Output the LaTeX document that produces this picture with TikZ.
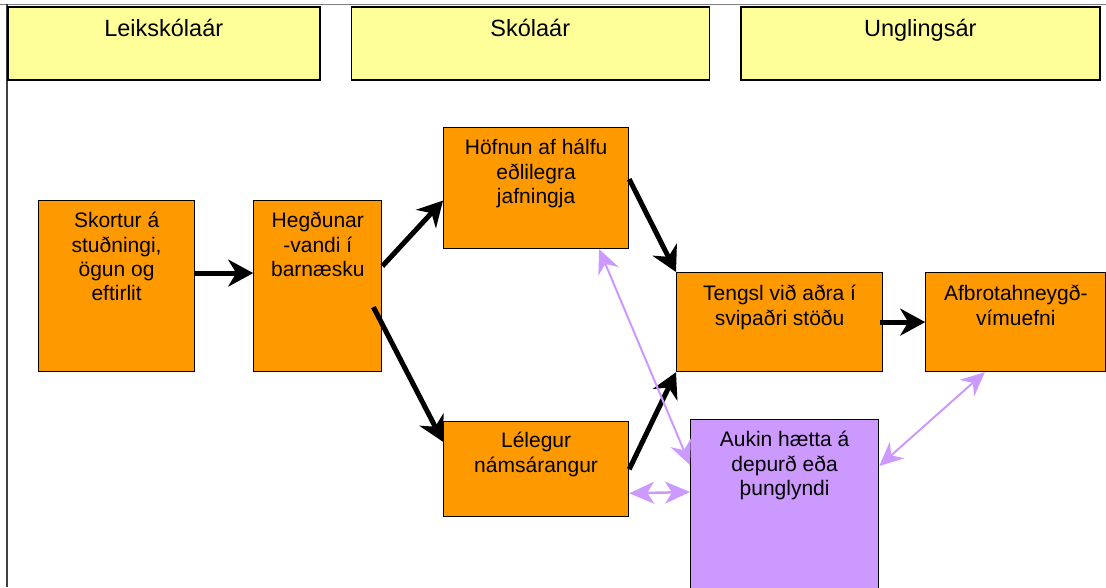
\documentclass[tikz,border=0pt]{standalone}
\usepackage{fontspec}
\setmainfont{Liberation Sans}
\usetikzlibrary{positioning,arrows.meta}

\definecolor{periodyellow}{HTML}{FFFF99}
\definecolor{factororange}{HTML}{FF9900}
\definecolor{riskpurple}{HTML}{CC99FF}

\newcommand{\boxtext}[4]{\parbox[t][#2][t]{#1}{\centering\rule{0pt}{#3}#4}}

\begin{document}
\begin{tikzpicture}[x=1pt, y=-1pt, node distance=30pt and 30pt,
  period/.style={draw, line width=1.5pt, fill=periodyellow, inner sep=0pt, font=\fontsize{23.5}{28}\selectfont},
  factor/.style={draw, line width=1.2pt, fill=factororange, inner sep=0pt, font=\fontsize{21}{24.4}\selectfont},
  risk/.style={factor, fill=riskpurple},
  cause/.style={line width=5pt, -{Stealth[length=25pt,width=27pt,inset=8pt]}},
  link/.style={riskpurple, line width=2pt, {Stealth[length=24pt,width=22pt,inset=8pt]}-{Stealth[length=24pt,width=22pt,inset=8pt]}},
  widelink/.style={riskpurple, line width=2.5pt, {Stealth[length=25pt,width=22pt,inset=7pt]}-{Stealth[length=25pt,width=22pt,inset=7pt]}}]
  \useasboundingbox (0,0) rectangle (1106,587);
  \draw[gray, line width=1pt] (0,4) -- (1106,4);
  \draw[darkgray, line width=1.5pt] (7,4) -- (7,587);

  % time periods
  \node[period, anchor=north west] (leik) at (7,6) {\boxtext{312pt}{73pt}{30pt}{Leikskólaár}};
  \node[period] (skola) [right=of leik] {\boxtext{358pt}{73pt}{30pt}{Skólaár}};
  \node[period] (ungl) [right=of skola] {\boxtext{359pt}{73pt}{30pt}{Unglingsár}};

  % factors
  \node[factor, anchor=north west] (skortur) at (38,200) {\boxtext{156pt}{171pt}{27pt}{Skortur á\\stuðningi,\\ögun og\\eftirlit}};
  \node[factor] (hegdun) [right=58pt of skortur] {\boxtext{128pt}{171pt}{27pt}{Hegðunar\\-vandi í\\barnæsku}};
  \node[factor, anchor=north west] (hofnun) at (443,127) {\boxtext{185pt}{121pt}{27pt}{Höfnun af hálfu\\eðlilegra\\jafningja}};
  \node[factor] (lelegur) [below=172pt of hofnun] {\boxtext{185pt}{95pt}{26pt}{Lélegur\\námsárangur}};
  \node[factor, anchor=north west] (tengsl) at (676,272) {\boxtext{206pt}{99pt}{28pt}{Tengsl við aðra í\\svipaðri stöðu}};
  \node[factor] (afbrot) [right=42pt of tengsl] {\boxtext{180pt}{99pt}{28pt}{Afbrotahneygð-\\vímuefni}};
  \node[risk, anchor=north west] (aukin) at (690,419) {\boxtext{188pt}{190pt}{27pt}{Aukin hætta á\\depurð eða\\þunglyndi}};

  % causal paths
  \draw[cause] ([yshift=13pt]skortur.east) -- ([yshift=13pt]hegdun.west);
  \draw[cause] ([yshift=20pt]hegdun.east) -- ([yshift=-12.5pt]hofnun.west);
  \draw[cause] ([xshift=-9pt,yshift=-21pt]hegdun.east) -- ([yshift=27.5pt]lelegur.west);
  \draw[cause] ([yshift=9pt]hofnun.east) -- (tengsl.north west);
  \draw[cause] (lelegur.east) -- (tengsl.south west);
  \draw[cause] ([xshift=-3pt]tengsl.east) -- (afbrot.west);

  % links to depression
  \draw[link] ([xshift=-30pt]hofnun.south east) -- ([yshift=-46pt]aukin.north west);
  \draw[widelink] ([yshift=-24pt]lelegur.east) -- ([yshift=-73pt]aukin.north west);
  \draw[link] ([yshift=-47pt]aukin.north east) -- ([xshift=-31pt]afbrot.south);
\end{tikzpicture}
\end{document}
